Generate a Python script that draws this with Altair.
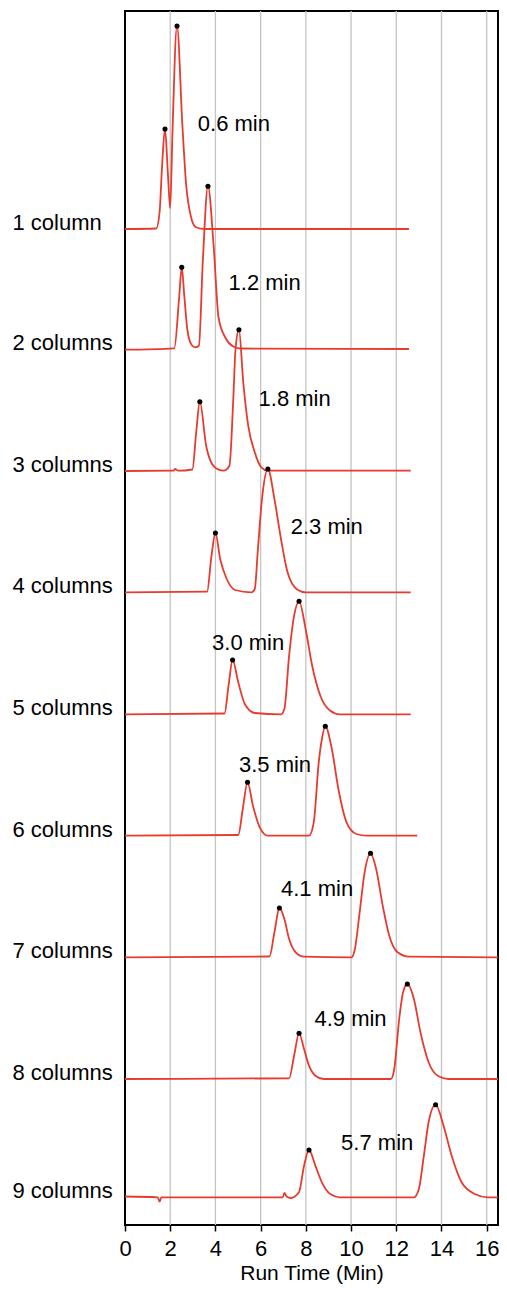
import altair as alt
import pandas as pd

FONT = "Liberation Sans"
RED = "#e63b2e"

names = ["1 column", "2 columns", "3 columns", "4 columns", "5 columns",
         "6 columns", "7 columns", "8 columns", "9 columns"]
baselines = [996, 876, 754, 633, 511, 389, 268, 146, 28]

# trace points: run time (min) and offset signal
t1 = [0, 1.38, 1.53, 1.64, 1.77, 1.90, 2.00, 2.10, 2.30, 2.54, 2.71, 2.91, 3.12, 3.50, 12.56]
v1 = [996, 996.5, 1013, 1059, 1096, 1050, 1017, 1093, 1199, 1099, 1039, 1009, 998, 996, 996]

t2 = [0, 2.18, 2.40, 2.51, 2.62, 2.76, 2.95, 3.12, 3.27, 3.44, 3.67, 3.92, 4.14, 4.45, 4.79, 5.10, 12.56]
v2 = [875.3, 876.7, 929, 957.7, 930, 895, 880, 877.7, 879.3, 962.7, 1038.7, 979.3, 907, 887, 878.5, 876.5, 876]

t3 = [0, 2.15, 2.22, 2.35, 2.98, 3.15, 3.31, 3.59, 3.85, 4.14, 4.36, 4.62, 4.79, 4.89, 5.04, 5.23, 5.45,
      5.74, 6.03, 6.32, 12.64]
v3 = [754, 754.3, 756, 754.3, 755.5, 792.7, 823.3, 779.3, 761, 755.3, 754.3, 759.3, 826, 876, 895.3, 843,
      799.3, 772.7, 757.7, 754.3, 754.3]

t4 = [0, 3.63, 3.82, 4.00, 4.21, 4.50, 4.87, 5.59, 5.74, 5.88, 6.06, 6.32, 6.61, 6.90, 7.19, 7.63, 7.99, 12.64]
v4 = [632.7, 633.3, 668, 692, 666, 646, 635, 632.7, 636, 676, 726, 756, 726, 686, 652.7, 635.3, 632.7, 632.7]

t5 = [0, 4.40, 4.58, 4.76, 5.01, 5.30, 5.74, 6.90, 7.05, 7.26, 7.48, 7.70, 7.99, 8.28, 8.64, 9.08, 9.51, 12.64]
v5 = [510.7, 511.5, 539.3, 565, 542.7, 521, 512, 510.7, 516, 569.3, 609.3, 623.7, 596, 559.3, 529.3, 514.3,
      510.7, 510.7]

t6 = [0, 5.01, 5.21, 5.42, 5.66, 5.96, 6.32, 8.14, 8.35, 8.57, 8.71, 8.86, 9.15, 9.44, 9.80, 10.24, 10.68, 12.93]
v6 = [389.3, 390, 416, 442.7, 419.3, 397.7, 389.3, 389.3, 402.7, 462.7, 486, 498.7, 476, 436, 402.7, 391,
      389.3, 389.3]

t7 = [0, 6.39, 6.61, 6.83, 7.05, 7.26, 7.55, 7.92, 10.02, 10.17, 10.38, 10.60, 10.86, 11.11, 11.40, 11.69,
      12.06, 12.56, 16.5]
v7 = [267.7, 268.5, 292.7, 317, 306, 286, 272.7, 268.3, 267.7, 276, 312.7, 352.7, 371.7, 356, 319.3, 289.3,
      272.7, 268.3, 267.7]

t8 = [0, 7.26, 7.48, 7.70, 7.92, 8.14, 8.42, 8.79, 11.76, 11.91, 12.13, 12.30, 12.49, 12.78, 13.07, 13.43,
      13.87, 14.31, 16.5]
v8 = [146, 146.7, 169.3, 191.7, 176, 159.3, 149.3, 146, 146, 156, 206, 232.7, 241, 226, 192.7, 162.7,
      148.7, 146, 146]

t9 = [0, 1.45, 1.53, 1.61, 6.98, 7.05, 7.15, 7.33, 7.70, 7.92, 8.14, 8.42, 8.71, 9.08, 9.51, 12.78, 13.00,
      13.22, 13.43, 13.74, 14.09, 14.45, 14.89, 15.47, 16.05, 16.5]
v9 = [28.5, 27.7, 23.5, 27.7, 27.7, 32, 28.5, 27, 33, 59.3, 75, 59.3, 42.7, 31, 27.7, 27.7, 36, 69.3, 102.7,
      120.3, 99.3, 69.3, 42.7, 31, 27.7, 27.7]

peak_t = [1.77, 2.30, 2.51, 3.67, 3.31, 5.04, 4.00, 6.32, 4.76, 7.70, 5.42, 8.86, 6.83, 10.86, 7.70, 12.49,
          8.14, 13.74]
peak_v = [1096, 1199, 957.7, 1038.7, 823.3, 895.3, 692, 756, 565, 623.7, 442.7, 498.7, 317, 371.7, 191.7,
          241, 75, 120.3]

gap_text = ["0.6 min", "1.2 min", "1.8 min", "2.3 min", "3.0 min", "3.5 min", "4.1 min", "4.9 min", "5.7 min"]
gap_t = [3.22, 4.58, 5.91, 7.33, 3.85, 5.04, 6.90, 8.38, 9.56]
gap_v = [1101, 942, 826.5, 698, 582.3, 460.5, 336.5, 205.7, 82.3]

grid_t = [2, 4, 6, 8, 10, 12, 14, 16]
x_ticks = list(range(0, 17))

traces = [(t1, v1), (t2, v2), (t3, v3), (t4, v4), (t5, v5), (t6, v6), (t7, v7), (t8, v8), (t9, v9)]
rows = []
for name, (ts, vs) in zip(names, traces):
    for t, v in zip(ts, vs):
        rows.append({"row": name, "t": t, "v": v})
lines_df = pd.DataFrame(rows)
peaks_df = pd.DataFrame({"t": peak_t, "v": peak_v})
gaps_df = pd.DataFrame({"t": gap_t, "v": gap_v, "text": gap_text})
grid_df = pd.DataFrame({"t": grid_t})

label_expr = ""
for b, n in zip(baselines, names):
    label_expr += f"datum.value == {b} ? '{n}' : "
label_expr += "''"

x_scale = alt.Scale(domain=[0, 16.5], nice=False, zero=False)
y_scale = alt.Scale(domain=[0, 1214], nice=False, zero=False)

x_axis = alt.Axis(
    values=x_ticks,
    labelExpr="datum.value % 2 ? '' : datum.label",
    tickSize={"condition": {"test": "datum.value % 2 == 1", "value": 3}, "value": 6},
    tickColor="black", tickWidth=1.5,
    labelFont=FONT, labelFontSize=22, labelColor="black", labelPadding=7,
    labelFlush=False, labelOverlap=False,
    title="Run Time (Min)", titleFont=FONT, titleFontSize=21, titleFontWeight="normal",
    titleColor="black", titlePadding=3,
    domain=False, grid=False,
)
y_axis = alt.Axis(
    values=baselines, labelExpr=label_expr,
    labelAlign="left", labelBaseline="alphabetic", labelPadding=113,
    ticks=False, tickSize=0, domain=False, grid=False, title=None,
    labelFont=FONT, labelFontSize=22, labelColor="black",
    labelFlush=False, labelOverlap=False, labelBound=False,
)

grid = alt.Chart(grid_df).mark_rule(color="#c4c4c4", strokeWidth=1.3).encode(
    x=alt.X("t:Q", scale=x_scale, axis=x_axis)
)

lines = alt.Chart(lines_df).mark_line(color=RED, strokeWidth=1.8, interpolate="monotone").encode(
    x=alt.X("t:Q", scale=x_scale, axis=x_axis),
    y=alt.Y("v:Q", scale=y_scale, axis=y_axis),
    detail="row:N",
)

dots = alt.Chart(peaks_df).mark_circle(color="black", size=26, opacity=1).encode(
    x=alt.X("t:Q", scale=x_scale),
    y=alt.Y("v:Q", scale=y_scale),
)

labels = alt.Chart(gaps_df).mark_text(
    align="left", baseline="middle", font=FONT, fontSize=22, color="black"
).encode(
    x=alt.X("t:Q", scale=x_scale),
    y=alt.Y("v:Q", scale=y_scale),
    text="text:N",
)

chart = alt.layer(grid, lines, dots, labels).properties(
    width=373, height=1214,
    background="white",
    autosize=alt.AutoSizeParams(type="none"),
    padding={"left": 117, "top": 3, "right": 1, "bottom": 60},
).configure_view(stroke="black", strokeWidth=2)

chart.save("out.html", embed_options={"renderer": "svg", "actions": False})
